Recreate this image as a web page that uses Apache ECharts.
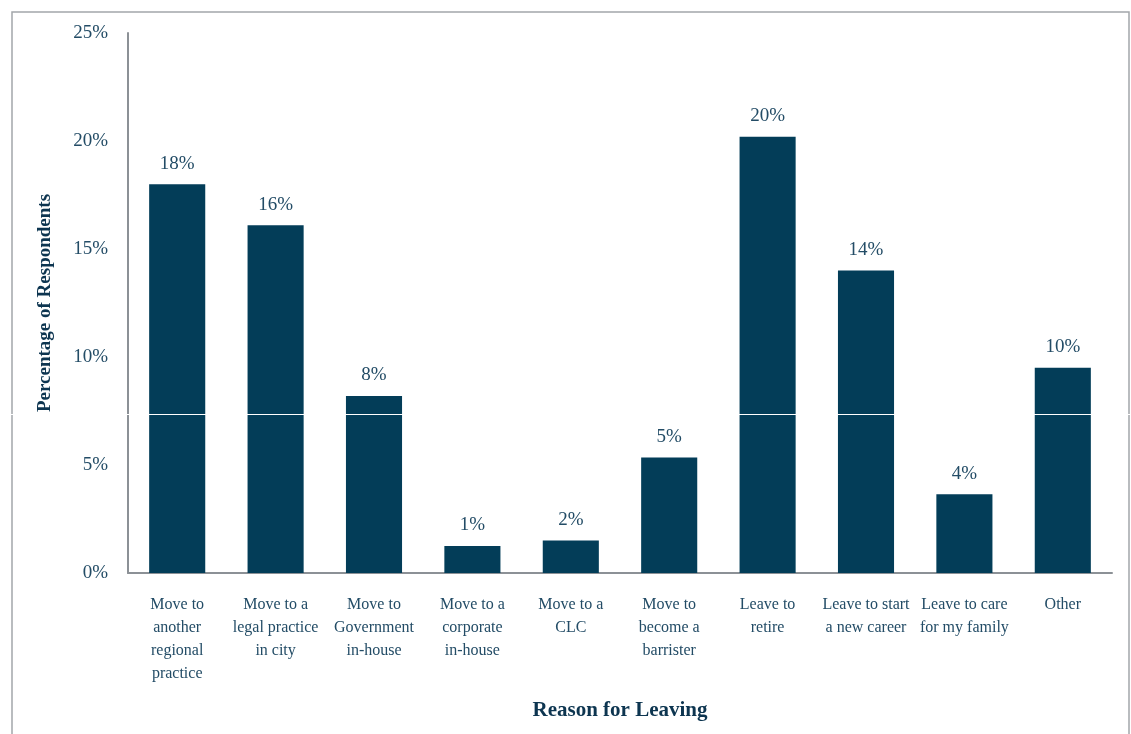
<!DOCTYPE html>
<html>
<head>
<meta charset="utf-8">
<script src="https://cdn.jsdelivr.net/npm/echarts@6/dist/echarts.min.js"></script>
<style>
  html, body { margin: 0; padding: 0; background: #fff; }
  #chart { width: 1131px; height: 734px; }
</style>
</head>
<body>
<div id="chart"></div>
<script>
// Reasons respondents gave for leaving, with share of respondents (%)
const categories = [
  'Move to\nanother\nregional\npractice',
  'Move to a\nlegal practice\nin city',
  'Move to\nGovernment\nin-house',
  'Move to a\ncorporate\nin-house',
  'Move to a\nCLC',
  'Move to\nbecome a\nbarrister',
  'Leave to\nretire',
  'Leave to start\na new career',
  'Leave to care\nfor my family',
  'Other'
];
const shares = [18.0, 16.1, 8.2, 1.25, 1.5, 5.35, 20.2, 14.0, 3.65, 9.5];
const yTicks = [0, 5, 10, 15, 20, 25];

const FONT = '"Liberation Serif", "DejaVu Serif", serif';
const TEXT = '#234c66';
const BAR = '#033d58';

const chart = echarts.init(document.getElementById('chart'));
chart.setOption({
  animation: false,
  backgroundColor: '#fff',
  grid: { left: 128, right: 19, top: 33, bottom: 161 },
  xAxis: {
    type: 'category',
    data: categories,
    name: 'Reason for Leaving',
    nameLocation: 'middle',
    nameGap: 127,
    nameTextStyle: { fontFamily: FONT, fontSize: 21, fontWeight: 'bold', color: '#0d3550' },
    axisLine: { lineStyle: { color: '#8c9196', width: 2 } },
    axisTick: { show: false },
    axisLabel: {
      interval: 0,
      margin: 20,
      fontFamily: FONT,
      fontSize: 16,
      lineHeight: 23,
      color: TEXT,
      verticalAlign: 'top'
    }
  },
  yAxis: {
    type: 'value',
    min: yTicks[0],
    max: yTicks[yTicks.length - 1],
    interval: 5,
    name: 'Percentage of Respondents',
    nameLocation: 'middle',
    nameGap: 73,
    nameRotate: 90,
    nameTextStyle: { fontFamily: FONT, fontSize: 19, fontWeight: 'bold', color: '#0d3550' },
    axisLine: { show: true, lineStyle: { color: '#8c9196', width: 2 } },
    axisTick: { show: false },
    splitLine: { show: false },
    axisLabel: {
      margin: 20,
      fontFamily: FONT,
      fontSize: 19,
      color: TEXT,
      formatter: v => v + '%'
    }
  },
  series: [{
    type: 'bar',
    data: shares,
    barWidth: '57%',
    itemStyle: { color: BAR },
    label: {
      show: true,
      position: 'top',
      distance: 11,
      fontFamily: FONT,
      fontSize: 19,
      color: TEXT,
      formatter: p => Math.round(p.value) + '%'
    }
  }],
  graphic: [
    {
      type: 'rect',
      shape: { x: 12, y: 12, width: 1117, height: 740 },
      style: { fill: 'none', stroke: '#a3a7ab', lineWidth: 1.5 },
      z: 10
    },
    {
      type: 'rect',
      shape: { x: 0, y: 414, width: 1131, height: 1 },
      style: { fill: '#ffffff' },
      z: 20
    }
  ]
});
</script>
</body>
</html>
